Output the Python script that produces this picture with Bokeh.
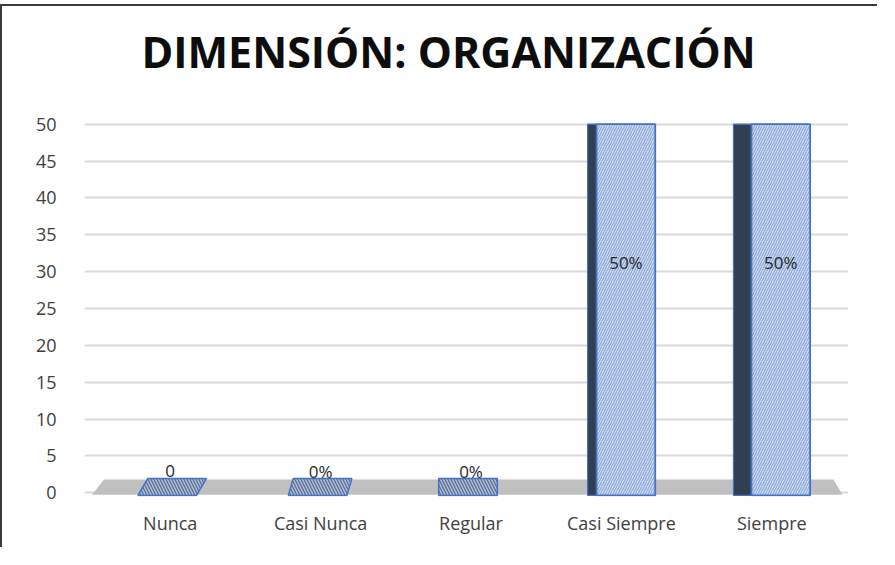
from bokeh.plotting import figure
from bokeh.models import Range1d, FixedTicker, ColumnDataSource, LinearAxis
from bokeh.embed import file_html
from bokeh.resources import INLINE

# ---- data ----
categories = ["Nunca", "Casi Nunca", "Regular", "Casi Siempre", "Siempre"]
values = [0, 0, 0, 50, 50]
labels = ["0", "0%", "0%", "50%", "50%"]
y_ticks = [0, 5, 10, 15, 20, 25, 30, 35, 40, 45, 50]
title_text = "DIMENSIÓN: ORGANIZACIÓN"

n = len(categories)
pos = list(range(n))
mid = (n - 1) / 2.0

FONT = "Open Sans"

p = figure(width=877, height=543, output_backend="svg", toolbar_location=None,
           x_range=Range1d(-0.57, n - 0.49), y_range=Range1d(-0.5, 50.5),
           min_border_left=82, min_border_right=31, min_border_top=113,
           min_border_bottom=53)
p.styles = {"margin-top": "4px", "border-left": "2px solid #3a3a3a",
            "border-top": "2px solid #3a3a3a"}

p.title.text = title_text
p.title.align = "left"
p.title.offset = 57
p.title.vertical_align = "top"
p.title.text_font = FONT
p.title.text_font_size = "43px"
p.title.text_font_style = "bold"
p.title.text_color = "#0d0d0d"
p.title.standoff = 31

p.outline_line_color = None
p.background_fill_color = "white"
p.border_fill_color = "white"

# axes
xax = p.below[0]
xax.ticker = FixedTicker(ticks=pos)
xax.major_label_overrides = {i: c for i, c in zip(pos, categories)}
p.yaxis.ticker = FixedTicker(ticks=y_ticks)
for ax in (xax, p.yaxis[0]):
    ax.axis_line_color = None
    ax.major_tick_line_color = None
    ax.minor_tick_line_color = None
    ax.major_label_text_font = FONT
    ax.major_label_text_font_size = "18px"
    ax.major_label_text_color = "#404040"
xax.major_label_standoff = 8
p.yaxis.major_label_standoff = 22

# empty spacer band between title and plot area (invisible tick, blank label)
spacer = LinearAxis(ticker=FixedTicker(ticks=[0]), major_label_overrides={0: ""},
                    axis_line_color=None, major_tick_line_color=None,
                    minor_tick_line_color=None, major_tick_out=22, major_tick_in=0,
                    minor_tick_out=0, minor_tick_in=0, major_label_standoff=0,
                    major_label_text_font_size="1px")
p.add_layout(spacer, "above")

p.xgrid.visible = False
p.ygrid.grid_line_color = "#d9d9d9"
p.ygrid.grid_line_width = 2

# floor (3D base band)
p.patch(x=[-0.52, n - 0.53, n - 0.59, -0.44], y=[-0.25, -0.25, 1.8, 1.8],
        fill_color="#c0c0c0", line_color=None)

# zero-height bars: seen only as their top face
cap_xs, cap_ys = [], []
for i, v in zip(pos, values):
    if v == 0:
        ts = 0.033 * (mid - i)
        bc = i - 0.02
        cap_xs.append([bc - 0.195, bc + 0.195, bc + 0.195 + ts, bc - 0.195 + ts])
        cap_ys.append([-0.35, -0.35, 1.95, 1.95])
p.patches(xs=cap_xs, ys=cap_ys, fill_color="#b9bcc4", line_color="#4472c4",
          line_width=1.5, hatch_pattern="\\", hatch_color="#4a6aa8",
          hatch_scale=6, hatch_weight=1.2)

# bars with visible side face
fl, fr, sl, tops, lx, ly = [], [], [], [], [], []
for i, v in zip(pos, values):
    d = 0.06 * (i - mid)
    c = i + 0.5 * d
    if v > 0:
        fl.append(c - 0.195)
        fr.append(c + 0.195)
        sl.append(c - 0.195 - max(d, 0))
        tops.append(v)
        lx.append(c)
        ly.append(v * 0.625)
    else:
        lx.append(i)
        ly.append(2.9)

bars = ColumnDataSource(dict(fl=fl, fr=fr, sl=sl, top=tops))
p.quad(left="sl", right="fl", bottom=-0.35, top="top", source=bars,
       fill_color="#323e52", line_color="#4472c4", line_width=1.2)
p.quad(left="fl", right="fr", bottom=-0.35, top="top", source=bars,
       fill_color="#dae3f3", line_color="#4472c4", line_width=1.8,
       hatch_pattern="/", hatch_color="#8faadc", hatch_scale=5, hatch_weight=1.4)

lab = ColumnDataSource(dict(x=lx, y=ly, t=labels))
p.text(x="x", y="y", text="t", source=lab, text_align="center",
       text_baseline="middle", text_font={"value": FONT}, text_font_size="17px",
       text_color="#262626")

open("out.html", "w").write(file_html(p, INLINE))
